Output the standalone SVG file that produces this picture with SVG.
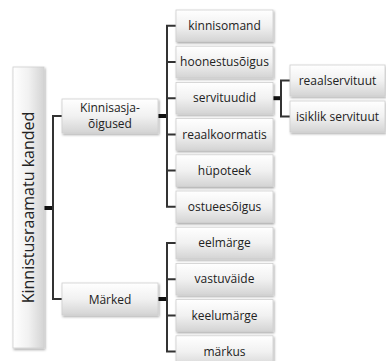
<svg xmlns="http://www.w3.org/2000/svg" width="386" height="361" viewBox="0 0 386 361">
  <defs>
    <linearGradient id="gV" x1="0" y1="0" x2="0" y2="1">
      <stop offset="0" stop-color="#ffffff"/>
      <stop offset="0.5" stop-color="#f1f1f1"/>
      <stop offset="1" stop-color="#d4d4d4"/>
    </linearGradient>
    <linearGradient id="gH" x1="0" y1="0" x2="1" y2="0">
      <stop offset="0" stop-color="#ffffff"/>
      <stop offset="0.5" stop-color="#f1f1f1"/>
      <stop offset="1" stop-color="#d4d4d4"/>
    </linearGradient>
    <filter id="sh" x="-20%" y="-20%" width="140%" height="150%">
      <feDropShadow dx="1" dy="1.5" stdDeviation="1" flood-color="#000" flood-opacity="0.35"/>
    </filter>
  </defs>
  <style>
    .box { fill: url(#gV); stroke: #cfcfcf; stroke-width: 0.8; filter: url(#sh); }
    .root { fill: url(#gH); stroke: #cfcfcf; stroke-width: 0.8; filter: url(#sh); }
    .t { font-family: "Open Sans", "Liberation Sans", sans-serif; font-size: 12px; fill: #222; text-anchor: middle; }
    .rt { font-family: "Open Sans", "Liberation Sans", sans-serif; font-size: 16px; fill: #222; text-anchor: middle; }
    .ln { fill: none; stroke: #333; stroke-width: 2; }
    .stub { fill: none; stroke: #111; stroke-width: 4; }
  </style>

  <!-- connectors -->
  <g id="connectors">
    <!-- root to level 1 -->
    <line class="stub" x1="44" y1="208" x2="53" y2="208"/>
    <path class="ln" d="M62,116 H53 V299 H62"/>
    <!-- Kinnisasjaõigused to rights -->
    <line class="stub" x1="158" y1="116" x2="167" y2="116"/>
    <path class="ln" d="M176,25.8 H167 V206.8 H176"/>
    <path class="ln" d="M167,62 H176 M167,98.2 H176 M167,134.4 H176 M167,170.6 H176"/>
    <!-- Märked to notes -->
    <line class="stub" x1="158" y1="299" x2="167" y2="299"/>
    <path class="ln" d="M176,243 H167 V351.6 H176"/>
    <path class="ln" d="M167,279.2 H176 M167,315.4 H176"/>
    <!-- servituudid to servitude types -->
    <line class="stub" x1="273" y1="98.2" x2="281" y2="98.2"/>
    <path class="ln" d="M290,80.5 H281 V116.5 H290"/>
  </g>

  <g id="root">
    <rect class="root" x="13" y="67" width="31" height="281"/>
    <text class="rt" transform="translate(34,207.5) rotate(-90)">Kinnistusraamatu kanded</text>
  </g>

  <g id="kinnisasjaoigused">
    <rect class="box" x="62" y="99" width="96" height="34"/>
    <text class="t" x="110" y="111.5">Kinnisasja-</text>
    <text class="t" x="110" y="128">õigused</text>
  </g>
  <g id="marked">
    <rect class="box" x="62" y="283" width="96" height="32"/>
    <text class="t" x="110" y="303.5">Märked</text>
  </g>

  <g id="kinnisomand">
    <rect class="box" x="176" y="10" width="97" height="31.6"/>
    <text class="t" x="224.5" y="30">kinnisomand</text>
  </g>
  <g id="hoonestusoigus">
    <rect class="box" x="176" y="46.2" width="97" height="31.6"/>
    <text class="t" x="224.5" y="66.2">hoonestusõigus</text>
  </g>
  <g id="servituudid">
    <rect class="box" x="176" y="82.4" width="97" height="31.6"/>
    <text class="t" x="224.5" y="102.4">servituudid</text>
  </g>
  <g id="reaalkoormatis">
    <rect class="box" x="176" y="118.6" width="97" height="31.6"/>
    <text class="t" x="224.5" y="138.6">reaalkoormatis</text>
  </g>
  <g id="hupoteek">
    <rect class="box" x="176" y="154.8" width="97" height="31.6"/>
    <text class="t" x="224.5" y="174.8">hüpoteek</text>
  </g>
  <g id="ostueesoigus">
    <rect class="box" x="176" y="191" width="97" height="31.6"/>
    <text class="t" x="224.5" y="211">ostueesõigus</text>
  </g>
  <g id="eelmarge">
    <rect class="box" x="176" y="227.2" width="97" height="31.6"/>
    <text class="t" x="224.5" y="247.2">eelmärge</text>
  </g>
  <g id="vastuvaide">
    <rect class="box" x="176" y="263.4" width="97" height="31.6"/>
    <text class="t" x="224.5" y="283.4">vastuväide</text>
  </g>
  <g id="keelumarge">
    <rect class="box" x="176" y="299.6" width="97" height="31.6"/>
    <text class="t" x="224.5" y="319.6">keelumärge</text>
  </g>
  <g id="markus">
    <rect class="box" x="176" y="335.8" width="97" height="31.6"/>
    <text class="t" x="224.5" y="355.8">märkus</text>
  </g>

  <g id="reaalservituut">
    <rect class="box" x="290" y="65" width="95" height="31"/>
    <text class="t" x="337.5" y="84.5">reaalservituut</text>
  </g>
  <g id="isiklikservituut">
    <rect class="box" x="290" y="101" width="95" height="31"/>
    <text class="t" x="337.5" y="120.5">isiklik servituut</text>
  </g>
</svg>
